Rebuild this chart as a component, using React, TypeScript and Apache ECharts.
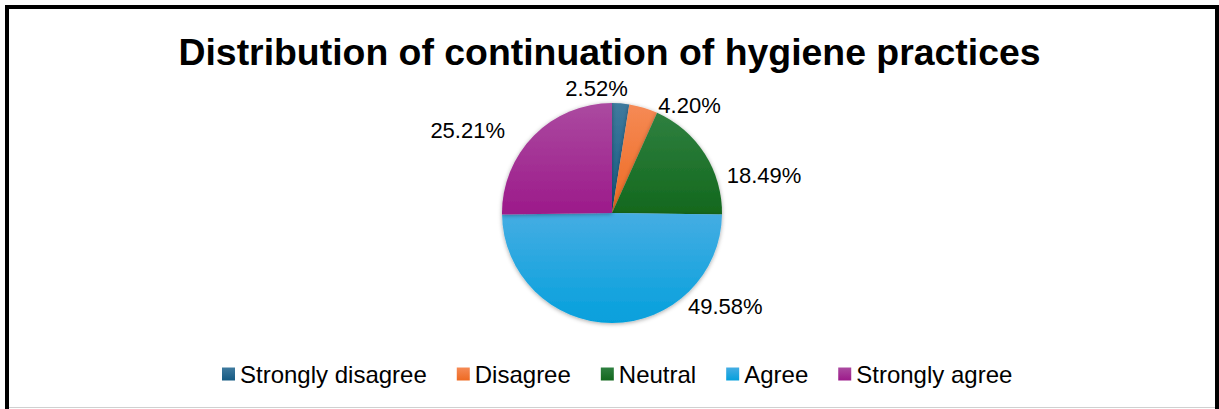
import React, { useEffect, useRef } from "react";
import * as echarts from "echarts";

const title = "Distribution of continuation of hygiene practices";
const categories = ["Strongly disagree", "Disagree", "Neutral", "Agree", "Strongly agree"];
const values = [2.52, 4.2, 18.49, 49.58, 25.21];
const topColors = ["#3f7a9e", "#f58a55", "#2f8040", "#45ade3", "#ab4aa0"];
const bottomColors = ["#155a82", "#ee6a22", "#13681d", "#05a0dc", "#9c1a8a"];
// label nudges (style only) to mimic the original "best fit" placement
const labelNudges: [number, number][] = [
  [-61, -7],
  [-26, -14],
  [15, 26],
  [71, -25],
  [-18, 0],
];

export default function App() {
  const ref = useRef<HTMLDivElement>(null);
  useEffect(() => {
    if (!ref.current) return;
    const chart = echarts.init(ref.current, undefined, { renderer: "svg" });
    const data = categories.map((name, i) => ({
      name,
      value: values[i],
      itemStyle: {
        color: new echarts.graphic.LinearGradient(0, 0, 0, 1, [
          { offset: 0, color: topColors[i] },
          { offset: 1, color: bottomColors[i] },
        ]),
      },
    }));
    chart.setOption({
      animation: false,
      backgroundColor: "#ffffff",
      title: {
        text: title,
        left: "center",
        top: 28,
        textStyle: { fontFamily: "Liberation Sans, Arial", fontWeight: "bold", fontSize: 37.4, color: "#000" },
      },
      legend: {
        bottom: 18,
        left: 217,
        icon: "rect",
        itemWidth: 13,
        itemHeight: 13,
        itemGap: 30,
        textStyle: { fontFamily: "Liberation Sans, Arial", fontSize: 24, color: "#000" },
        data: categories,
      },
      graphic: [
        {
          type: "rect",
          shape: { x: 7, y: 7, width: 1210, height: 420 },
          style: { fill: "none", stroke: "#000", lineWidth: 4 },
          silent: true,
        },
        {
          type: "line",
          shape: { x1: 9, y1: 407.5, x2: 1215, y2: 407.5 },
          style: { stroke: "#d0d0d0", lineWidth: 1 },
          silent: true,
        },
      ],
      series: [
        {
          type: "pie",
          center: [612, 213],
          radius: 110,
          startAngle: 90,
          clockwise: true,
          data,
          itemStyle: { shadowBlur: 4, shadowColor: "rgba(0,0,0,0.35)", shadowOffsetY: 1 },
          label: {
            show: true,
            position: "outside",
            formatter: (p: any) => p.value.toFixed(2) + "%",
            fontFamily: "Liberation Sans, Arial",
            fontSize: 22,
            color: "#000",
          },
          labelLine: { show: false, length: 8, length2: 0 },
          labelLayout: (p: any) => ({ dx: labelNudges[p.dataIndex][0], dy: labelNudges[p.dataIndex][1] }),
          emphasis: { disabled: true },
        },
      ],
    });
    return () => chart.dispose();
  }, []);
  return (
    <div
      ref={ref}
      style={{ position: "absolute", left: 0, top: 0, width: 1219, height: 409 }}
    />
  );
}
